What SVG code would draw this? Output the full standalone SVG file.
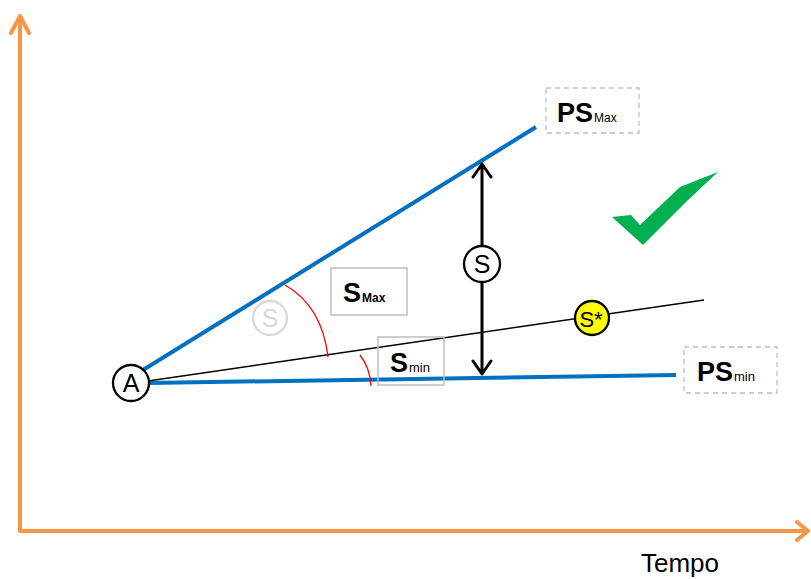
<svg xmlns="http://www.w3.org/2000/svg" width="811" height="579" viewBox="0 0 811 579">
<style>
.axis{stroke:#F79646;stroke-width:4;fill:none;stroke-linecap:round;stroke-linejoin:round}
.blue{stroke:#0070C0;stroke-width:4;fill:none}
.thin{stroke:#000;stroke-width:1.5;fill:none}
.red{stroke:#FF0000;stroke-width:1.3;fill:none}
.arr{stroke:#000;stroke-width:3;fill:none;stroke-linecap:round;stroke-linejoin:round}
.node{fill:#fff;stroke:#000;stroke-width:2.3}
.lbl{font-family:"Liberation Sans",Arial,sans-serif;fill:#000}
.dash{fill:#fff;stroke:#BFBFBF;stroke-width:1.3;stroke-dasharray:5,4}
.box{fill:#fff;stroke:#BFBFBF;stroke-width:1.5}
</style>
<rect width="811" height="579" fill="#fff"/>
<g id="axes">
<path class="axis" d="M20,530 V16 M11,33 L20,16 L29,33"/>
<path class="axis" d="M20,531 H808 M797,522 L808,531 L797,540"/>
<text class="lbl" x="641" y="572" font-size="26">Tempo</text>
</g>
<g id="connectors">
<line class="blue" x1="143" y1="370" x2="536" y2="127"/>
<line class="blue" x1="148" y1="383" x2="676" y2="375"/>
<line class="thin" x1="148" y1="381" x2="704" y2="300"/>
<path class="red" d="M285,285 Q322,306 328,357"/>
<path class="red" d="M360,355 Q370,368 371,386"/>
<path class="arr" d="M482,165 V246 M482,282 V373 M473,177 L482,164 L491,177 M473,361 L482,374 L491,361"/>
</g>
<g id="nodeA">
<circle class="node" cx="131" cy="383" r="18"/>
<text class="lbl" x="131" y="392" font-size="25" text-anchor="middle">A</text>
</g>
<g id="nodeSgray">
<circle cx="270" cy="318" r="17" fill="#fff" stroke="#D9D9D9" stroke-width="2.3"/>
<text class="lbl" x="270" y="327" font-size="25" text-anchor="middle" style="fill:#D9D9D9">S</text>
</g>
<g id="nodeS">
<circle class="node" cx="482" cy="264" r="18"/>
<text class="lbl" x="482" y="273" font-size="25" text-anchor="middle">S</text>
</g>
<g id="nodeSstar">
<circle cx="592" cy="318" r="17" fill="#FFFF00" stroke="#000" stroke-width="2.3"/>
<text class="lbl" x="591" y="327" font-size="22" text-anchor="middle">S*</text>
</g>
<g id="labelSMax">
<rect class="box" x="331" y="268" width="76" height="47"/>
<text class="lbl" x="343" y="302" font-size="27" font-weight="bold">S<tspan font-size="12" dx="1">Max</tspan></text>
</g>
<g id="labelSmin">
<rect class="box" x="378" y="337" width="66" height="48" style="fill:none"/>
<text class="lbl" x="390" y="372" font-size="27" font-weight="bold">S<tspan font-size="13" font-weight="normal" dx="1">min</tspan></text>
</g>
<g id="labelPSMax">
<rect class="dash" x="546" y="88" width="93" height="45"/>
<text class="lbl" x="557" y="122" font-size="27" font-weight="bold">PS<tspan font-size="12" font-weight="normal" dx="1">Max</tspan></text>
</g>
<g id="labelPSmin">
<rect class="dash" x="684" y="347" width="93" height="46"/>
<text class="lbl" x="697" y="381" font-size="27" font-weight="bold">PS<tspan font-size="13" font-weight="normal" dx="1">min</tspan></text>
</g>
<g id="check">
<polygon fill="#00B050" points="612,217 631,215 640,225 680,187 718,172 688,200 643,245"/>
</g>
</svg>
